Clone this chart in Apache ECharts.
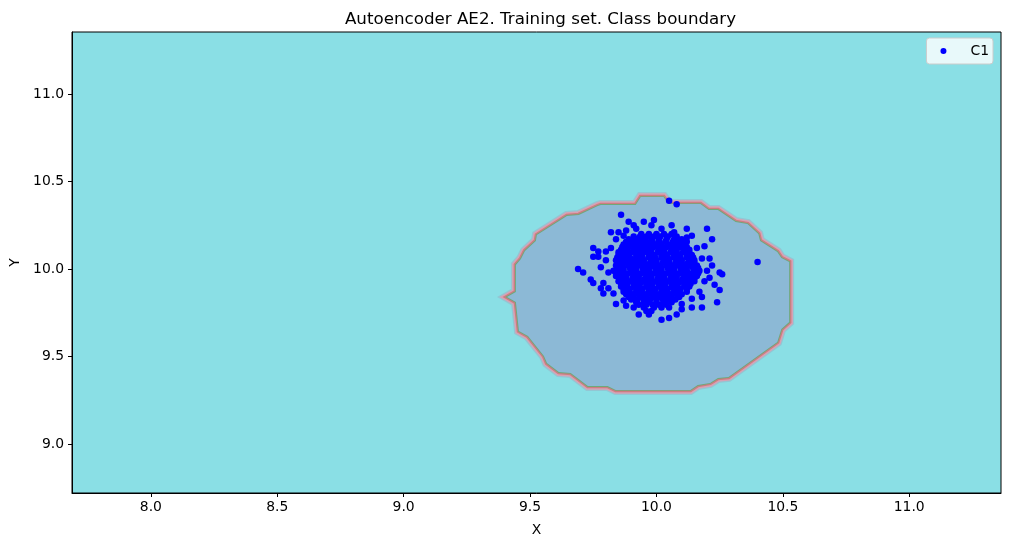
<!DOCTYPE html>
<html><head><meta charset="utf-8">
<script src="https://cdn.jsdelivr.net/npm/echarts@6/dist/echarts.min.js"></script>
<style>html,body{margin:0;padding:0;background:#fff}#c{width:1010px;height:547px}</style>
</head><body><div id="c"></div>
<script>
const titleText = 'Autoencoder AE2. Training set. Class boundary';
const xTicks = [8.0, 8.5, 9.0, 9.5, 10.0, 10.5, 11.0];
const yTicks = [9.0, 9.5, 10.0, 10.5, 11.0];
const xRange = [7.688, 11.363];
const yRange = [8.72, 11.354];

// class boundary polygon (data coords)
const boundaryX = [9.780, 9.918, 9.938, 10.028, 10.048, 10.174, 10.206, 10.243, 10.313, 10.360, 10.403, 10.410, 10.478, 10.494, 10.525,
  10.525, 10.494, 10.478, 10.285, 10.243, 10.212, 10.163, 10.134, 9.839, 9.807, 9.729, 9.661, 9.614, 9.567, 9.555, 9.492, 9.456,
  9.444, 9.409, 9.444, 9.444, 9.464, 9.480, 9.523, 9.527, 9.646, 9.693, 9.768];
const boundaryY = [10.366, 10.366, 10.411, 10.411, 10.371, 10.371, 10.337, 10.337, 10.269, 10.257, 10.200, 10.160, 10.097, 10.063, 10.040,
  9.697, 9.657, 9.583, 9.383, 9.377, 9.349, 9.337, 9.309, 9.309, 9.331, 9.331, 9.406, 9.411, 9.463, 9.503, 9.617, 9.646,
  9.811, 9.840, 9.869, 10.023, 10.057, 10.103, 10.160, 10.194, 10.303, 10.309, 10.360];

// C1 training points, [x, y]
const c1Outer = [
  [10.05,10.39],[10.08,10.37],[9.86,10.31],[9.89,10.27],[9.91,10.25],[9.95,10.27],[9.98,10.25],[10.20,10.23],
  [9.82,10.21],[9.85,10.21],[10.22,10.17],[10.40,10.04],[9.75,10.12],[9.77,10.10],[9.75,10.07],[9.69,10.00],
  [9.71,9.98],[9.74,9.94],[9.75,9.92],[9.78,9.89],[9.79,9.86],[9.84,9.80],[9.88,9.79],[9.93,9.74],[9.96,9.76],
  [10.02,9.71],[10.05,9.72],[10.10,9.77],[10.14,9.78],[10.18,9.78],[10.24,9.81],[10.18,9.84],[10.25,9.88],
  [10.26,9.97],[10.25,9.98],[10.21,10.06],[10.19,10.13],[10.14,10.19],[10.06,10.25]
];
const c1Mid = [
  [9.80,10.05],[9.81,9.98],[9.79,9.92],[9.82,10.12],[9.84,10.17],[9.88,10.22],[9.92,10.23],[10.02,10.23],
  [10.07,10.21],[10.12,10.18],[10.16,10.12],[10.18,10.06],[10.20,9.99],[10.19,9.93],[10.17,9.87],[10.14,9.83],
  [10.10,9.80],[10.05,9.78],[9.98,9.76],[9.91,9.78],[9.87,9.82],[9.83,9.86],[9.81,9.89],[9.80,10.10],
  [10.22,10.02],[10.21,9.95],[10.23,9.91],[9.78,10.01],[9.77,10.07],[9.97,9.74],[10.08,9.74],[10.12,10.23],
  [9.99,10.28],[9.87,10.19]
];
const c1CoreRows = [
  [10.20, [9.94, 9.97, 10.00, 10.03, 10.06]],
  [10.185,[9.91, 9.935, 9.96, 9.99, 10.015, 10.045, 10.08]],
  [10.17, [9.89, 9.92, 9.95, 9.98, 10.01, 10.04, 10.07, 10.10]],
  [10.155,[9.88, 9.905, 9.935, 9.96, 9.985, 10.01, 10.035, 10.065, 10.09, 10.12]],
  [10.14, [9.87, 9.90, 9.92, 9.95, 9.97, 10.00, 10.02, 10.05, 10.08, 10.11]],
  [10.125,[9.865, 9.89, 9.915, 9.94, 9.965, 9.99, 10.015, 10.04, 10.07, 10.095, 10.12]],
  [10.11, [9.86, 9.88, 9.91, 9.93, 9.96, 9.98, 10.01, 10.03, 10.06, 10.08, 10.11, 10.13]],
  [10.095,[9.85, 9.875, 9.90, 9.925, 9.95, 9.975, 10.005, 10.03, 10.055, 10.08, 10.105, 10.13]],
  [10.08, [9.85, 9.87, 9.89, 9.92, 9.94, 9.97, 9.99, 10.02, 10.04, 10.07, 10.09, 10.12, 10.14]],
  [10.065,[9.845, 9.87, 9.895, 9.92, 9.945, 9.97, 9.995, 10.02, 10.045, 10.07, 10.095, 10.12, 10.145]],
  [10.05, [9.84, 9.86, 9.88, 9.91, 9.93, 9.95, 9.98, 10.00, 10.03, 10.05, 10.08, 10.10, 10.13, 10.15]],
  [10.035,[9.85, 9.875, 9.90, 9.925, 9.95, 9.975, 10.00, 10.025, 10.05, 10.075, 10.10, 10.125, 10.15]],
  [10.02, [9.84, 9.86, 9.89, 9.91, 9.94, 9.96, 9.99, 10.01, 10.04, 10.06, 10.09, 10.11, 10.14, 10.16]],
  [10.005,[9.845, 9.87, 9.895, 9.92, 9.945, 9.97, 9.995, 10.02, 10.045, 10.07, 10.095, 10.12, 10.145, 10.165]],
  [9.99,  [9.83, 9.85, 9.87, 9.90, 9.92, 9.95, 9.97, 10.00, 10.02, 10.05, 10.07, 10.10, 10.12, 10.15, 10.17]],
  [9.975, [9.84, 9.865, 9.89, 9.915, 9.94, 9.965, 9.99, 10.015, 10.04, 10.065, 10.09, 10.115, 10.14, 10.165]],
  [9.96,  [9.84, 9.86, 9.88, 9.91, 9.93, 9.96, 9.98, 10.01, 10.03, 10.06, 10.08, 10.11, 10.13, 10.16]],
  [9.945, [9.855, 9.88, 9.905, 9.93, 9.955, 9.98, 10.005, 10.03, 10.055, 10.08, 10.105, 10.13, 10.15]],
  [9.93,  [9.85, 9.87, 9.90, 9.92, 9.95, 9.97, 10.00, 10.02, 10.05, 10.07, 10.10, 10.12, 10.15]],
  [9.915, [9.86, 9.885, 9.91, 9.935, 9.96, 9.985, 10.01, 10.035, 10.06, 10.085, 10.11, 10.135]],
  [9.90,  [9.86, 9.88, 9.91, 9.93, 9.96, 9.98, 10.01, 10.03, 10.06, 10.08, 10.11, 10.13]],
  [9.885, [9.87, 9.895, 9.92, 9.945, 9.97, 9.995, 10.02, 10.045, 10.07, 10.095, 10.12]],
  [9.87,  [9.87, 9.89, 9.92, 9.94, 9.97, 9.99, 10.02, 10.04, 10.07, 10.09, 10.12]],
  [9.855, [9.88, 9.905, 9.93, 9.955, 9.98, 10.005, 10.03, 10.055, 10.08, 10.10]],
  [9.84,  [9.89, 9.91, 9.94, 9.96, 9.99, 10.01, 10.04, 10.06, 10.09]],
  [9.825, [9.90, 9.925, 9.95, 9.975, 10.00, 10.025, 10.05, 10.075]],
  [9.81,  [9.92, 9.95, 9.97, 10.00, 10.03, 10.06]],
  [9.795, [9.93, 9.96, 9.985, 10.01, 10.04]],
  [9.78,  [9.95, 9.99, 10.02]]
];

const c1Points = c1Outer.concat(c1Mid);
c1CoreRows.forEach(r => r[1].forEach(x => c1Points.push([x, r[0]])));

const FONT = 'DejaVu Sans';
const chart = echarts.init(document.getElementById('c'), null, {renderer: 'canvas'});
chart.setOption({
  animation: false,
  backgroundColor: '#ffffff',
  title: {
    text: titleText, left: 535.5, top: 6, textAlign: 'center',
    textStyle: {fontFamily: FONT, fontSize: 16.7, fontWeight: 'normal', color: '#000'}
  },
  legend: {
    right: 17, top: 38, orient: 'vertical',
    data: [{name: 'C1', icon: 'circle'}],
    itemWidth: 24, itemHeight: 6,
    padding: [6, 4, 6, 14],
    backgroundColor: 'rgba(255,255,255,0.8)',
    borderColor: '#cccccc', borderWidth: 1, borderRadius: 3,
    formatter: name => '{g|}' + name,
    textStyle: {fontFamily: FONT, fontSize: 13.9, color: '#000', rich: {g: {width: 10}}}
  },
  grid: {left: 70, top: 32, right: 9, bottom: 54, show: true, backgroundColor: '#8adfe5', borderColor: '#000', borderWidth: 1},
  xAxis: {
    type: 'value', min: xRange[0], max: xRange[1],
    name: 'X', nameLocation: 'middle', nameGap: 30,
    nameTextStyle: {fontFamily: FONT, fontSize: 13.9, color: '#000'},
    axisLine: {show: true, lineStyle: {color: '#000', width: 1}},
    axisTick: {show: true, inside: false, length: 4, customValues: xTicks, lineStyle: {color: '#000'}},
    axisLabel: {show: true, customValues: xTicks, margin: 7, formatter: v => v.toFixed(1),
      fontFamily: FONT, fontSize: 13.9, color: '#000'},
    splitLine: {show: false}
  },
  yAxis: {
    type: 'value', min: yRange[0], max: yRange[1],
    name: 'Y', nameLocation: 'middle', nameGap: 50,
    nameTextStyle: {fontFamily: FONT, fontSize: 13.9, color: '#000'},
    axisLine: {show: true, lineStyle: {color: '#000', width: 1}},
    axisTick: {show: true, inside: false, length: 4, customValues: yTicks, lineStyle: {color: '#000'}},
    axisLabel: {show: true, customValues: yTicks, margin: 8, formatter: v => v.toFixed(1),
      fontFamily: FONT, fontSize: 13.9, color: '#000'},
    splitLine: {show: false}
  },
  series: [
    {
      type: 'custom', name: 'boundary', coordinateSystem: 'cartesian2d', silent: true, z: 1,
      data: [[boundaryX[0], boundaryY[0]]],
      renderItem: (params, api) => {
        const pts = boundaryX.map((x, i) => api.coord([x, boundaryY[i]]));
        return {type: 'group', children: [
          {type: 'polygon', shape: {points: pts}, style: {fill: 'none', stroke: '#93c6d3', lineWidth: 10}},
          {type: 'polygon', shape: {points: pts}, style: {fill: 'none', stroke: '#d8a1b4', lineWidth: 7.5}},
          {type: 'polygon', shape: {points: pts}, style: {fill: 'none', stroke: '#cc7d80', lineWidth: 4.5}},
          {type: 'polygon', shape: {points: pts}, style: {fill: 'none', stroke: '#6fa87a', lineWidth: 1.8}},
          {type: 'polygon', shape: {points: pts}, style: {fill: '#8cb9d6', stroke: null}}
        ]};
      }
    },
    {
      type: 'scatter', name: 'C1', z: 3, symbol: 'circle', symbolSize: 6.5,
      itemStyle: {color: '#0000ff', opacity: 1},
      data: c1Points
    }
  ]
});
</script>
</body></html>
